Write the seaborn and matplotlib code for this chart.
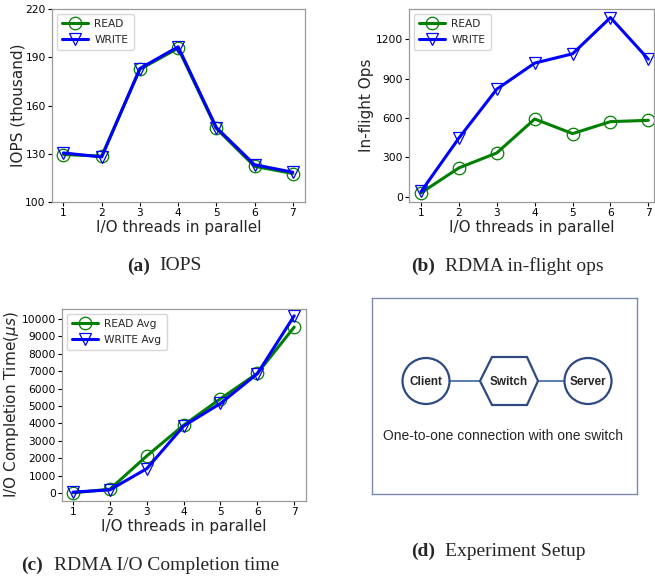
import matplotlib
matplotlib.use("Agg")
import matplotlib.pyplot as plt
from matplotlib.patches import Ellipse, Polygon
import seaborn as sns
import pandas as pd

# ---------------- data ----------------
threads = [1, 2, 3, 4, 5, 6, 7]
iops_read = [129.5, 128.5, 182.5, 195.6, 145.7, 122.2, 117.7]
iops_write = [130.5, 128.0, 183.0, 196.5, 146.3, 123.2, 118.5]
inflight_read = [30, 220, 334, 592, 481, 572, 582]
inflight_write = [40, 448, 820, 1018, 1089, 1365, 1048]
ct_read = [10, 220, 2130, 3900, 5420, 6880, 9540]
ct_write = [50, 180, 1400, 3850, 5150, 6860, 10190]
iops_ticks = [100, 130, 160, 190, 220]
inflight_ticks = [0, 300, 600, 900, 1200]
ct_ticks = list(range(0, 10001, 1000))

sns.set_theme(style="ticks")
plt.rcParams["font.family"] = ["DejaVu Sans"]

W, H = 655, 578
fig = plt.figure(figsize=(W / 100, H / 100), dpi=100)


def ax_px(l, t, r, b):
    return fig.add_axes([l / W, 1 - b / H, (r - l) / W, (b - t) / H])


GREEN = "#008000"
BLUE = "#0000ff"
SPINE = "#9a9a9a"


def style_axes(ax, tick_fs=7.7):
    for s in ax.spines.values():
        s.set_color(SPINE)
        s.set_linewidth(0.9)
    ax.tick_params(axis="both", colors="black", labelsize=tick_fs, length=3,
                   width=0.8, pad=1.5)
    for t in ax.get_xticklines() + ax.get_yticklines():
        t.set_color(SPINE)


def draw_pair(ax, x, y1, y2, lab1, lab2, leg_fs=7.7):
    df = pd.DataFrame({"x": x, "y1": y1, "y2": y2})
    sns.lineplot(data=df, x="x", y="y1", ax=ax, color=GREEN, linewidth=2.2,
                 marker="o", markersize=9, markerfacecolor="none",
                 markeredgecolor=GREEN, markeredgewidth=0.9, label=lab1)
    sns.lineplot(data=df, x="x", y="y2", ax=ax, color=BLUE, linewidth=2.2,
                 marker="v", markersize=9, markerfacecolor="none",
                 markeredgecolor=BLUE, markeredgewidth=0.9, label=lab2)
    leg = ax.legend(loc="upper left", fontsize=leg_fs, frameon=True,
                    handlelength=2.4, borderpad=0.5, labelspacing=0.55,
                    handletextpad=0.6, borderaxespad=0.45)
    leg.get_frame().set_edgecolor("#cccccc")
    ax.set_xticks(threads)
    ax.set_xlim(0.7, 7.32)


# (a) IOPS
ax1 = ax_px(52, 9, 305, 202)
draw_pair(ax1, threads, iops_read, iops_write, "READ", "WRITE")
ax1.set_ylim(100, 220)
ax1.set_yticks(iops_ticks)
ax1.set_xlabel("I/O threads in parallel", fontsize=11, labelpad=1)
ax1.set_ylabel("IOPS (thousand)", fontsize=11, labelpad=0)
style_axes(ax1)

# (b) in-flight
ax2 = ax_px(409, 9, 654, 202)
draw_pair(ax2, threads, inflight_read, inflight_write, "READ", "WRITE")
ax2.set_ylim(-40, 1430)
ax2.set_xlim(0.68, 7.15)
ax2.set_yticks(inflight_ticks)
ax2.set_xlabel("I/O threads in parallel", fontsize=11, labelpad=1)
ax2.set_ylabel("In-flight Ops", fontsize=11, labelpad=1)
style_axes(ax2)

# (c) completion time
ax3 = ax_px(62, 309, 306, 501)
draw_pair(ax3, threads, ct_read, ct_write, "READ Avg", "WRITE Avg")
ax3.set_ylim(-460, 10580)
ax3.set_yticks(ct_ticks)
ax3.set_xlabel("I/O threads in parallel", fontsize=11, labelpad=1)
ax3.set_ylabel(r"I/O Completion Time($\mu s$)", fontsize=11, labelpad=0)
style_axes(ax3)

# (d) experiment setup diagram
ax4 = ax_px(372, 298, 637, 494)
ax4.set_xlim(372, 637)
ax4.set_ylim(494, 298)
ax4.set_xticks([])
ax4.set_yticks([])
for s in ax4.spines.values():
    s.set_color("#7d8bab")
    s.set_linewidth(1.0)
NODE = "#2f4a80"
LINK = "#4a6fa8"
ax4.plot([449, 481], [381, 381], color=LINK, lw=1.3, zorder=1)
ax4.plot([537, 565], [381, 381], color=LINK, lw=1.3, zorder=1)
ax4.add_patch(Ellipse((426, 381), 47, 46, facecolor="white", edgecolor=NODE, lw=1.6, zorder=2))
ax4.add_patch(Ellipse((588, 381), 47, 46, facecolor="white", edgecolor=NODE, lw=1.6, zorder=2))
ax4.add_patch(Polygon([(480, 381), (492, 357), (527, 357), (538, 381), (527, 405), (492, 405)],
                      closed=True, facecolor="white", edgecolor=NODE, lw=1.6, zorder=2))
for (x, lab) in [(426, "Client"), (509, "Switch"), (588, "Server")]:
    ax4.text(x, 382, lab, ha="center", va="center", fontsize=8.5, fontweight="bold",
             family="Liberation Sans", zorder=3)
ax4.text(503, 436, "One-to-one connection with one switch", ha="center", va="center",
         fontsize=10, family="Liberation Sans")

# captions
def caption(xb, xr, y, bold, rest):
    fig.text(xb / W, 1 - y / H, bold, ha="left", va="center", fontsize=14,
             family="Liberation Serif", fontweight="bold")
    fig.text(xr / W, 1 - y / H, rest, ha="left", va="center", fontsize=14,
             family="Liberation Serif")

caption(127, 159, 266, "(a)", "IOPS")
caption(411, 445, 266, "(b)", "RDMA in-flight ops")
caption(21, 54, 565, "(c)", "RDMA I/O Completion time")
caption(411, 445, 551, "(d)", "Experiment Setup")

fig.savefig("out.png", dpi=100)
